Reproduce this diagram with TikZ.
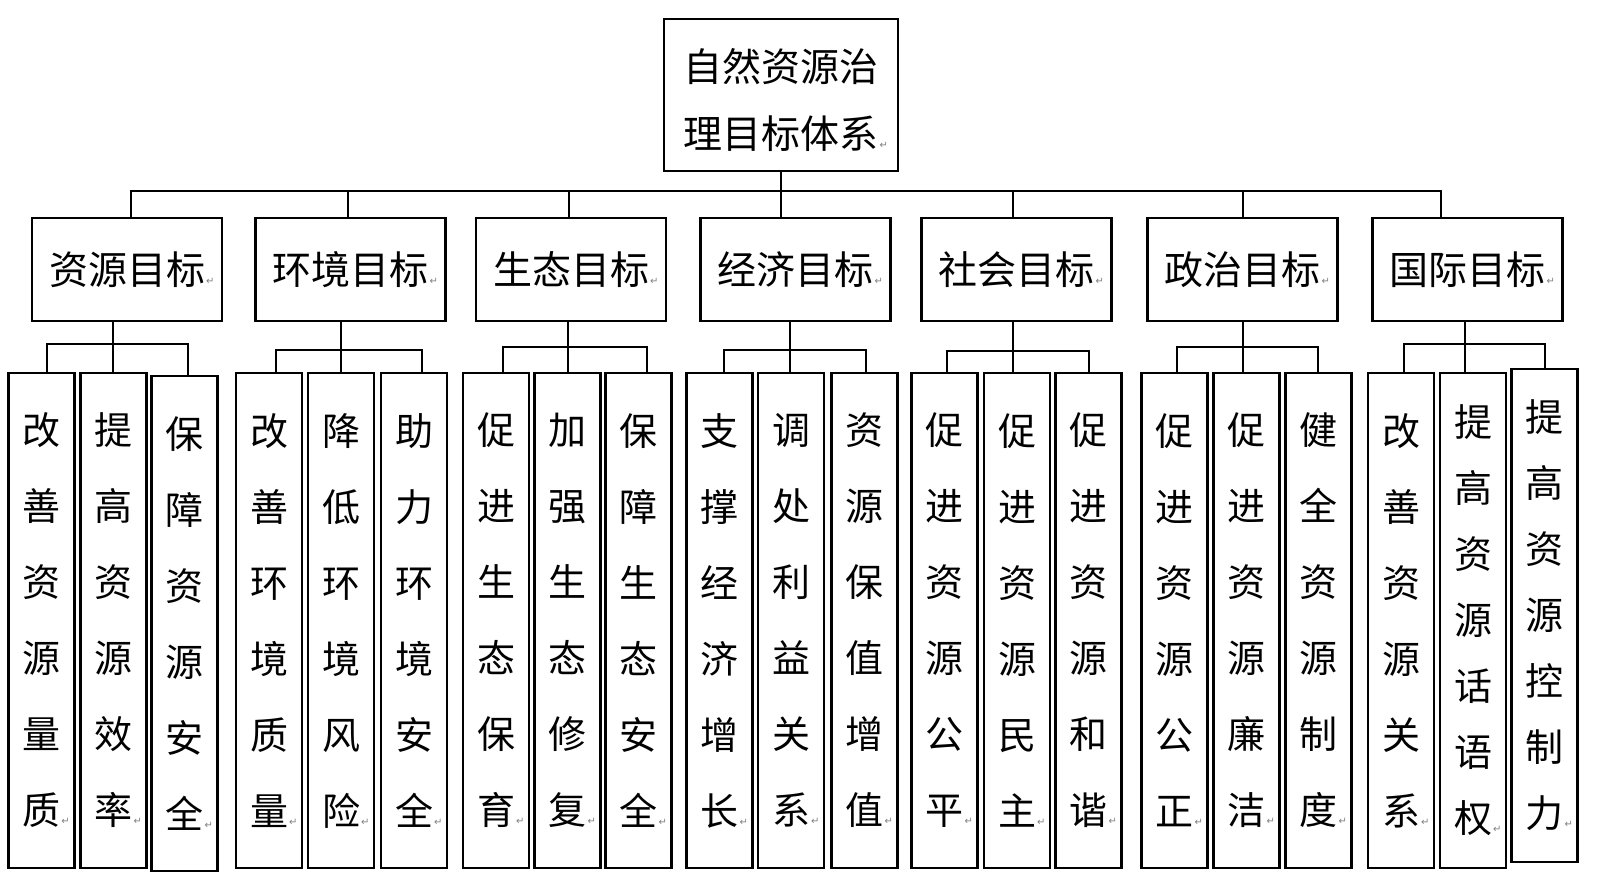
\documentclass[tikz,border=0pt]{standalone}
\usepackage{fontspec}
\newfontfamily\cjk{Noto Sans CJK SC}
\newfontfamily\symfont{DejaVu Sans}
\newcommand{\rmark}{\rlap{\kern1pt\symfont\fontsize{10}{10}\selectfont\textcolor{gray}{↵}}}
\begin{document}
\begin{tikzpicture}[x=1pt,y=-1pt,
  box/.style={draw=black,line width=2.8pt,fill=white,inner sep=0pt,align=center},
  rootbox/.style={box,minimum width=234pt,minimum height=152pt,font=\cjk\fontsize{39}{67}\selectfont},
  midbox/.style={box,minimum width=190pt,minimum height=103pt,font=\cjk\fontsize{39}{47}\selectfont},
  leafbox/.style={box,minimum width=66pt,minimum height=495pt,font=\cjk\fontsize{38}{76}\selectfont},
  leafseven/.style={leafbox,font=\cjk\fontsize{38}{66}\selectfont},
  link/.style={line width=2.5pt,line cap=rect}]
\fill[white] (0,0) rectangle (1600,891);
\useasboundingbox (0,0) rectangle (1600,891);

% root
\node[rootbox] (root) at (781,95) {\rule{0pt}{43pt}自然资源治\\理目标体系\rmark};

% second level
\node[midbox] (m1) at (127,269.5) {资源目标\rmark};
\node[midbox] (m2) at (350.5,269.5) {环境目标\rmark};
\node[midbox] (m3) at (571,269.5) {生态目标\rmark};
\node[midbox] (m4) at (795.5,269.5) {经济目标\rmark};
\node[midbox] (m5) at (1016.5,269.5) {社会目标\rmark};
\node[midbox] (m6) at (1242.5,269.5) {政治目标\rmark};
\node[midbox] (m7) at (1467.5,269.5) {国际目标\rmark};

% leaves
\node[leafbox] (l1a) at (41.5,620.5) {改\\善\\资\\源\\量\\质\rmark};
\node[leafbox] (l1b) at (113.5,620.5) {提\\高\\资\\源\\效\\率\rmark};
\node[leafbox] (l1c) at (184.5,623.5) {保\\障\\资\\源\\安\\全\rmark};
\node[leafbox] (l2a) at (269,620.5) {改\\善\\环\\境\\质\\量\rmark};
\node[leafbox] (l2b) at (341,620.5) {降\\低\\环\\境\\风\\险\rmark};
\node[leafbox] (l2c) at (414,620.5) {助\\力\\环\\境\\安\\全\rmark};
\node[leafbox] (l3a) at (496,620.5) {促\\进\\生\\态\\保\\育\rmark};
\node[leafbox] (l3b) at (567.5,620.5) {加\\强\\生\\态\\修\\复\rmark};
\node[leafbox] (l3c) at (638.5,620.5) {保\\障\\生\\态\\安\\全\rmark};
\node[leafbox] (l4a) at (719.5,620.5) {支\\撑\\经\\济\\增\\长\rmark};
\node[leafbox] (l4b) at (791,620.5) {调\\处\\利\\益\\关\\系\rmark};
\node[leafbox] (l4c) at (864.5,620.5) {资\\源\\保\\值\\增\\值\rmark};
\node[leafbox] (l5a) at (944.5,620.5) {促\\进\\资\\源\\公\\平\rmark};
\node[leafbox] (l5b) at (1017,620.5) {促\\进\\资\\源\\民\\主\rmark};
\node[leafbox] (l5c) at (1088.5,620.5) {促\\进\\资\\源\\和\\谐\rmark};
\node[leafbox] (l6a) at (1174.5,620.5) {促\\进\\资\\源\\公\\正\rmark};
\node[leafbox] (l6b) at (1246.5,620.5) {促\\进\\资\\源\\廉\\洁\rmark};
\node[leafbox] (l6c) at (1318.5,620.5) {健\\全\\资\\源\\制\\度\rmark};
\node[leafbox] (l7a) at (1401,620.5) {改\\善\\资\\源\\关\\系\rmark};
\node[leafseven] (l7b) at (1473,620.5) {提\\高\\资\\源\\话\\语\\权\rmark};
\node[leafseven,minimum height=493pt] (l7c) at (1544.5,615.5) {提\\高\\资\\源\\控\\制\\力\rmark};

% main bus
\coordinate (b1) at (131,191);
\coordinate (b2) at (348,191);
\coordinate (b3) at (569,191);
\coordinate (b4) at (781,191);
\coordinate (b5) at (1013,191);
\coordinate (b6) at (1243,191);
\coordinate (b7) at (1441,191);
\draw[link] (b1) -- (b7);
\draw[link] (root.south) -- (b4);
\foreach \i in {1,...,7} {
  \draw[link] (b\i) -- (b\i |- m\i.north);
}

% sub buses
\foreach \g/\xa/\xb/\xc/\yy in {1/47/113/188/344, 2/276/341/422/350, 3/503/568/647/347, 4/724/790/866/350, 5/947/1013/1089/351, 6/1177/1243/1318/347, 7/1404/1465/1545/344} {
  \coordinate (s\g a) at (\xa,\yy);
  \coordinate (s\g b) at (\xb,\yy);
  \coordinate (s\g c) at (\xc,\yy);
  \draw[link] (s\g b |- m\g.south) -- (s\g b);
  \draw[link] (s\g a) -- (s\g c);
  \draw[link] (s\g a) -- (s\g a |- l\g a.north);
  \draw[link] (s\g b) -- (s\g b |- l\g b.north);
  \draw[link] (s\g c) -- (s\g c |- l\g c.north);
}
\end{tikzpicture}
\end{document}
